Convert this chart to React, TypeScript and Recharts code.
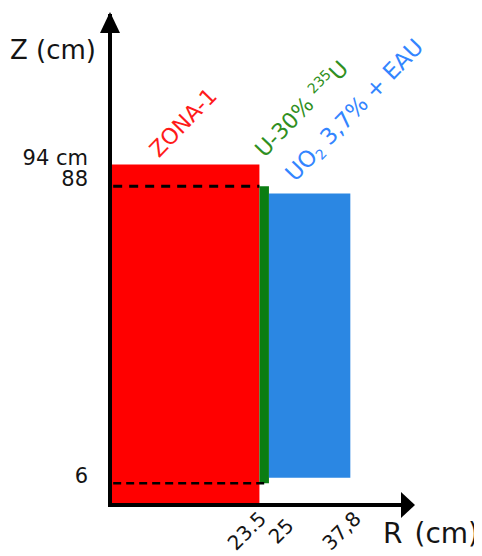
import React from 'react';
import { ComposedChart, XAxis, YAxis, ReferenceArea, ReferenceLine, Customized } from 'recharts';

// ---- data ----
const rTicks = [23.5, 25, 37.8];
const rTickLabels = ['23.5', '25', '37,8'];
const zTicks = [6, 88, 94];
const zTickLabels = ['6', '88', '94 cm'];

const zoneR0 = [0, 23.5, 25];
const zoneR1 = [23.5, 25, 37.8];
const zoneZ0 = [0, 6, 7.5];
const zoneZ1 = [94, 88, 86];

const dashZ = [88, 6];
const dashR0 = [0.5, 0.5];
const dashR1 = [23.5, 24.3];

// ---- style ----
const FONT = 'DejaVu Sans';
const zoneFill = ['#ff0000', '#0b7d12', '#2b87e3'];
const xTickShift = [
  { dx: 8, dy: 15 },
  { dx: 26, dy: 22 },
  { dx: 12, dy: 15 },
];

const XTick = (props: any) => {
  const { x, y, payload, index } = props;
  const i = rTicks.indexOf(payload.value);
  const s = xTickShift[i >= 0 ? i : index] || { dx: 0, dy: 0 };
  const px = x + s.dx;
  const py = y + s.dy;
  return (
    <text x={px} y={py} textAnchor="end" fontFamily={FONT} fontSize={20} fill="#141414"
      transform={`rotate(-45, ${px}, ${py})`}>
      {rTickLabels[i]}
    </text>
  );
};

const YTick = (props: any) => {
  const { x, y, payload } = props;
  const i = zTicks.indexOf(payload.value);
  return (
    <text x={x} y={y} textAnchor="end" fontFamily={FONT} fontSize={21} fill="#141414">
      {zTickLabels[i]}
    </text>
  );
};

const ZoneLabel = (props: any) => {
  const { viewBox, idx } = props;
  if (!viewBox) return null;
  const vx = viewBox.x;
  const vy = viewBox.y;
  const ang = -46;
  if (idx === 0) {
    const px = vx + 49, py = vy - 6;
    return (
      <text x={px} y={py} fontFamily={FONT} fontSize={22} fill="#ff1a1a" transform={`rotate(${ang}, ${px}, ${py})`}>
        ZONA-1
      </text>
    );
  }
  if (idx === 1) {
    const px = vx + 5, py = vy - 28;
    return (
      <text x={px} y={py} fontFamily={FONT} fontSize={22} fill="#2f8f22" transform={`rotate(${ang}, ${px}, ${py})`}>
        U-30%{' '}
        <tspan fontSize={14} dy={-9}>235</tspan>
        <tspan dy={9}>U</tspan>
      </text>
    );
  }
  const px = vx + 26, py = vy - 11;
  return (
    <text x={px} y={py} fontFamily={FONT} fontSize={22.5} fill="#3385ff" transform={`rotate(${ang}, ${px}, ${py})`}>
      UO
      <tspan fontSize={14} dy={4}>2</tspan>
      <tspan dy={-4}> 3,7% + EAU</tspan>
    </text>
  );
};

const Extras = () => (
  <g>
    <defs>
      <marker id="arrowZ" markerUnits="userSpaceOnUse" markerWidth={40} markerHeight={40}
        viewBox="-20 -20 40 40" refX={0} refY={0} orient="auto-start-reverse" overflow="visible">
        <path d="M4,0 L-17,-10 L-17,10 Z" fill="#000" />
      </marker>
      <marker id="arrowR" markerUnits="userSpaceOnUse" markerWidth={40} markerHeight={40}
        viewBox="-20 -20 40 40" refX={0} refY={0} orient="auto" overflow="visible">
        <path d="M3,0 L-11,-13 L-11,13 Z" fill="#000" />
      </marker>
    </defs>
    <text x={2} y={51} fontFamily={FONT} fontSize={26} fill="#141414">Z (cm)</text>
    <text x={375} y={535} fontFamily={FONT} fontSize={28} fill="#141414">
      R<tspan dx={12}>(cm)</tspan>
    </text>
  </g>
);

const chartData = zoneR1.map((r, i) => ({ r, z: zoneZ1[i] }));

export default function App() {
  return (
    <div style={{ width: 474, height: 548 }}>
      <ComposedChart width={474} height={548} data={chartData}
        margin={{ top: 8, right: 70, bottom: 0, left: 0 }}>
        <Customized component={<Extras />} />
        {zoneR0.map((r0, i) => (
          <ReferenceArea key={'z' + i} x1={r0} x2={zoneR1[i]} y1={zoneZ0[i]} y2={zoneZ1[i]}
            fill={zoneFill[i]} fillOpacity={1} stroke="none" ifOverflow="visible"
            label={<ZoneLabel idx={i} />} />
        ))}
        {dashZ.map((z, i) => (
          <ReferenceLine key={'d' + i}
            segment={[{ x: dashR0[i], y: z }, { x: dashR1[i], y: z }]}
            stroke="#000" strokeWidth={i === 0 ? 3 : 2.5}
            strokeDasharray={i === 0 ? '9 7' : '8 5'} ifOverflow="visible" />
        ))}
        <XAxis type="number" dataKey="r" domain={[0, 47.5]} allowDataOverflow
          ticks={rTicks} interval={0} tickLine={false} tickSize={0} tickMargin={0}
          height={51} tick={<XTick />}
          axisLine={{ stroke: '#000', strokeWidth: 4, markerEnd: 'url(#arrowR)' }} />
        <YAxis type="number" dataKey="z" domain={[0, 135]} allowDataOverflow
          ticks={zTicks} interval={0} tickLine={false} tickSize={0} tickMargin={22}
          width={102} tick={<YTick />}
          axisLine={{ stroke: '#000', strokeWidth: 4, strokeLinecap: 'square', markerStart: 'url(#arrowZ)' }} />
      </ComposedChart>
    </div>
  );
}
